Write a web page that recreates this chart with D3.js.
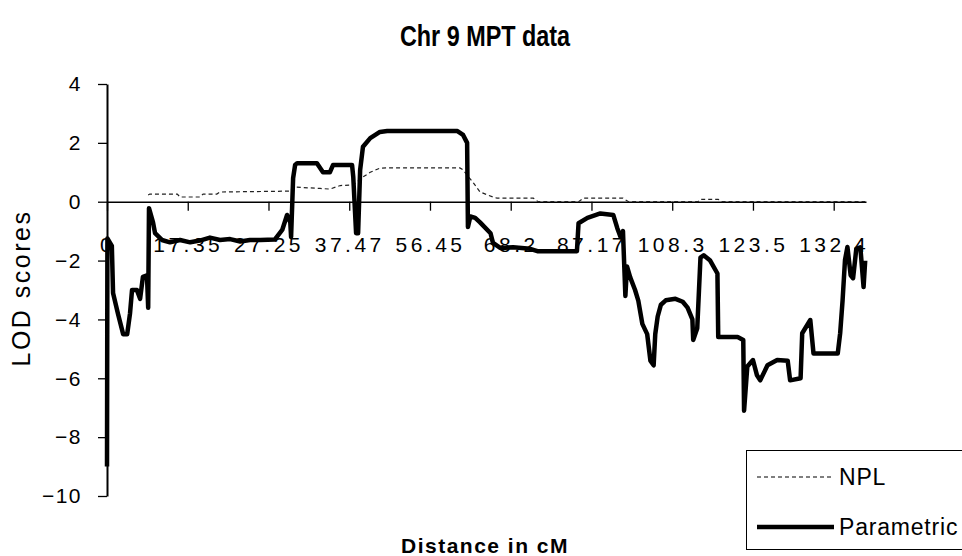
<!DOCTYPE html>
<html>
<head>
<meta charset="utf-8">
<script src="https://cdn.jsdelivr.net/npm/d3@7"></script>
<style>
  body { margin: 0; background: #fff; }
  svg { display: block; }
  text { font-family: "Liberation Sans", Arial, sans-serif; fill: #000; }
</style>
</head>
<body>
<svg id="chart" width="962" height="556"></svg>
<script>
// category labels along the x axis (one every 10 marker positions)
const xLabels = ['0', '17.35', '27.25', '37.47', '56.45', '68.2', '87.17', '108.3', '123.5', '132.4'];
const yTicks = [-10, -8, -6, -4, -2, 0, 2, 4];

// Parametric LOD (marker position, LOD)
const paramPos = [0, 0.05, 0.6, 0.75, 1.35, 2.0, 2.5, 2.85, 3.1, 3.7, 4.1, 4.45, 4.95, 5.1, 5.2, 5.7, 5.95, 6.8,
	7.8, 9.05, 10.3, 11.5, 12.75, 14.0, 15.25, 16.5, 17.7, 19.0, 20.8, 21.7, 22.3, 22.7, 22.8, 23.05, 23.3,
	23.55, 26.0, 26.75, 27.6, 28.0, 30.35, 30.5, 30.85, 31.1, 31.35, 31.7, 32.6, 33.8, 34.7, 43.4, 44.1, 44.6,
	44.7, 45.0, 45.6, 46.2, 47.5, 47.8, 48.7, 50.3, 52.4, 53.3, 58.2, 58.4, 59.5, 61.1, 62.7, 63.2, 63.6,
	63.9, 64.2, 64.4, 64.8, 65.4, 65.8, 66.3, 66.9, 67.3, 67.7, 67.9, 68.2, 68.6, 69.2, 70.4, 71.3, 71.9, 72.5,
	72.6, 73.1, 73.5, 73.9, 74.7, 75.6, 75.7, 78.1, 78.8, 78.9, 79.3, 80.0, 80.5, 80.9, 81.8, 83.0, 84.3, 84.6,
	85.9, 86.1, 87.1, 87.5, 90.5, 90.8, 91.1, 91.4, 91.7, 92.1, 92.4, 92.8, 93.3, 93.7, 93.9];
const paramLod = [-9.0, -1.25, -1.5, -3.1, -3.8, -4.5, -4.5, -3.8, -3.0, -3.0, -3.3, -2.55, -2.5, -3.6, -0.22, -0.7, -1.07, -1.3,
	-1.38, -1.3, -1.38, -1.32, -1.22, -1.3, -1.27, -1.35, -1.3, -1.3, -1.28, -0.96, -0.45, -0.7, -1.2, 0.8, 1.25,
	1.31, 1.31, 1.0, 1.0, 1.25, 1.25, 0.84, -1.07, -1.07, 1.08, 1.87, 2.16, 2.37, 2.4, 2.4, 2.27, 2.0,
	-0.86, -0.5, -0.55, -0.7, -1.07, -1.4, -1.57, -1.55, -1.6, -1.68, -1.68, -0.73, -0.55, -0.4, -0.45, -0.9, -1.2,
	-1.0, -3.2, -2.2, -2.57, -3.0, -3.36, -4.15, -4.5, -5.4, -5.56, -4.5, -3.9, -3.5, -3.35, -3.3, -3.4, -3.6, -4.0,
	-4.7, -4.3, -1.9, -1.82, -2.0, -2.44, -4.6, -4.6, -4.7, -7.1, -5.6, -5.38, -5.9, -6.07, -5.56, -5.38, -5.4, -6.07,
	-6.0, -4.47, -4.02, -5.16, -5.16, -4.47, -3.35, -1.98, -1.54, -2.5, -2.6, -1.6, -1.55, -2.9, -2.0];

// NPL LOD
const nplPos = [5.1, 5.3, 8.7, 9.05, 11.5, 11.9, 13.6, 14.0, 22.7, 23.05, 26.4, 27.6, 28.9, 30.5, 31.7, 32.6, 33.8, 34.7,
	43.7, 44.1, 45.4, 46.2, 47.8, 48.3, 52.8, 53.4, 58.4, 59.0, 63.9, 64.6, 73.2, 73.5, 75.7, 76.2, 93.9];
const nplLod = [0.23, 0.26, 0.26, 0.16, 0.16, 0.26, 0.26, 0.33, 0.36, 0.5, 0.45, 0.43, 0.55, 0.57, 0.84, 1.0, 1.14, 1.15,
	1.15, 1.08, 0.63, 0.33, 0.16, 0.12, 0.12, 0, 0, 0.12, 0.12, 0, 0, 0.08, 0.08, 0, 0];

const svg = d3.select('#chart');

const xScale = d3.scaleLinear().domain([0, 94]).range([107, 866]);
const yScale = d3.scaleLinear().domain([-10, 4]).range([496, 84]);

// title (tall, narrow lettering as in the source)
svg.append('text')
	.attr('transform', 'translate(485, 46) scale(0.78, 1)')
	.attr('text-anchor', 'middle')
	.style('font-size', '30px')
	.style('font-weight', 'bold')
	.text('Chr 9 MPT data');

// y axis
const yAxis = d3.axisLeft(yScale).tickValues(yTicks).tickSize(9).tickSizeOuter(0).tickPadding(16);
const gy = svg.append('g')
	.attr('transform', `translate(${xScale(0)}, 0)`)
	.call(yAxis);
gy.attr('font-family', null).attr('font-size', null);
gy.selectAll('text').style('font-size', '21px').style('letter-spacing', '1.5px');
gy.selectAll('line').attr('stroke', '#000').attr('stroke-width', 1.3);
gy.select('path').attr('stroke', '#000').attr('stroke-width', 2);

// x axis at LOD = 0
const xAxis = d3.axisBottom(xScale)
	.tickValues(xLabels.map((d, i) => i * 10))
	.tickFormat((d, i) => xLabels[i])
	.tickSize(9)
	.tickSizeOuter(0)
	.tickPadding(26);
const gx = svg.append('g')
	.attr('transform', `translate(0, ${yScale(0)})`)
	.call(xAxis);
gx.attr('font-family', null).attr('font-size', null);
gx.selectAll('text').style('font-size', '21px').style('letter-spacing', '3.5px');
gx.selectAll('line').attr('stroke', '#000').attr('stroke-width', 1.3);
gx.select('path').attr('stroke', '#000').attr('stroke-width', 1.5);

const line = d3.line()
	.x(d => xScale(d[0]))
	.y(d => yScale(d[1]));

// NPL (dashed)
svg.append('path')
	.datum(nplPos.map((p, i) => [p, nplLod[i]]))
	.attr('fill', 'none')
	.attr('stroke', '#222')
	.attr('stroke-width', 1.2)
	.attr('stroke-dasharray', '4,3')
	.attr('d', line);

// Parametric (thick)
svg.append('path')
	.datum(paramPos.map((p, i) => [p, paramLod[i]]))
	.attr('fill', 'none')
	.attr('stroke', '#000')
	.attr('stroke-width', 4.5)
	.attr('stroke-linejoin', 'round')
	.attr('d', line);

// axis titles
svg.append('text')
	.attr('transform', 'translate(30, 288) rotate(-90)')
	.attr('text-anchor', 'middle')
	.style('font-size', '25px')
	.style('letter-spacing', '2.5px')
	.text('LOD scores');

svg.append('text')
	.attr('x', 485)
	.attr('y', 553)
	.attr('text-anchor', 'middle')
	.style('font-size', '21px')
	.style('font-weight', 'bold')
	.style('letter-spacing', '1.5px')
	.text('Distance in cM');

// legend
const legend = svg.append('g');
legend.append('rect')
	.attr('x', 746.5)
	.attr('y', 450.5)
	.attr('width', 240)
	.attr('height', 99)
	.attr('fill', '#fff')
	.attr('stroke', '#000')
	.attr('stroke-width', 1);

const legendItems = [
	{ name: 'NPL', width: 1.2, dash: '4,3' },
	{ name: 'Parametric', width: 4.5, dash: null }
];
legendItems.forEach((item, i) => {
	const y = 477 + i * 50;
	legend.append('line')
		.attr('x1', 757)
		.attr('x2', 834)
		.attr('y1', y)
		.attr('y2', y)
		.attr('stroke', '#000')
		.attr('stroke-width', item.width)
		.attr('stroke-dasharray', item.dash);
	legend.append('text')
		.attr('x', 839)
		.attr('y', y + 8)
		.style('font-size', '23px')
		.style('letter-spacing', '0.8px')
		.text(item.name);
});
</script>
</body>
</html>
